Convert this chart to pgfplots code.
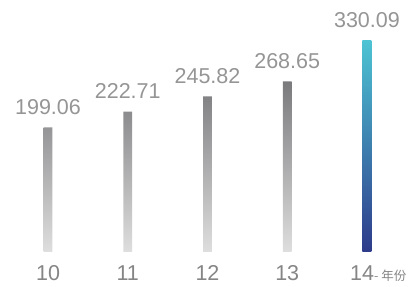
\documentclass[border=0pt]{standalone}
\usepackage{pgfplots}
\pgfplotsset{compat=1.18}
\usepackage{fontspec}
\setmainfont{Liberation Sans}
\newfontfamily\cjk{Noto Sans CJK SC}
\definecolor{lab}{HTML}{959595}
\definecolor{tick}{HTML}{858585}
\definecolor{gtop}{HTML}{7A7A7D}
\definecolor{gbot}{HTML}{DEDEDE}
\definecolor{btop}{HTML}{4DC3D3}
\definecolor{bbot}{HTML}{2E3B8A}
\begin{document}
\begin{tikzpicture}
\begin{axis}[
  scale only axis,
  width=414pt, height=251.7pt,
  xmin=9.398, xmax=14.59,
  ymin=10.2, ymax=392,
  axis line style={draw=none},
  ytick=\empty,
  xtick={10,11,12,13,14},
  xticklabels={10,11,12,13,{\kern-9.6pt 14\rlap{\cjk\fontsize{12.5}{13}\selectfont -\hspace{3pt}年份}}},
  xticklabel style={anchor=base, yshift=-28.5pt, font=\fontsize{21.5}{22}\selectfont, text=tick},
  major tick length=0pt,
  /pgf/number format/assume math mode=true,
  nodes near coords,
  nodes near coords style={anchor=base, yshift=13pt, font=\fontsize{21.5}{22}\selectfont, text=lab, /pgf/number format/.cd, fixed, fixed zerofill, precision=2, assume math mode=true},
]
\addplot[ybar, bar width=8.6pt, bar shift=0pt, draw=none, top color=gtop, bottom color=gbot]
  coordinates {(10,199.06) (11,222.71) (12,245.82) (13,268.65)};
\addplot[ybar, bar width=9pt, bar shift=0pt, draw=none, top color=btop, bottom color=bbot]
  coordinates {(14,330.09)};
\end{axis}
\path (current axis.south west) ++(0,-34.3pt) rectangle (current axis.north east);
\end{tikzpicture}
\end{document}
